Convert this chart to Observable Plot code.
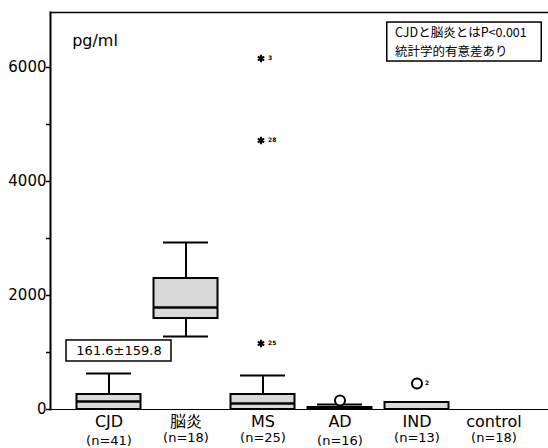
<!DOCTYPE html>
<html><head><meta charset="utf-8">
<script src="https://cdn.jsdelivr.net/npm/d3@7"></script>
<script src="https://cdn.jsdelivr.net/npm/@observablehq/plot@0.6"></script>
<style>body{margin:0;background:#fff}</style>
</head><body>
<div id="chart"></div>
<script>
const categories = ["CJD", "脳炎", "MS", "AD", "IND", "control"];
const nLabels = ["(n=41)", "(n=18)", "(n=25)", "(n=16)", "(n=13)", "(n=18)"];
const q1 = [0, 1596, 0, 0, 0, null];
const medians = [140, 1789, 105, null, null, null];
const q3 = [263, 2298, 263, 35, 123, null];
const whiskerHigh = [632, 2930, 596, 88, null, null];
const whiskerLow = [null, 1281, null, null, null, null];
const starOutliers = [
  {cat: "MS", value: 1158, id: "25"},
  {cat: "MS", value: 4719, id: "28"},
  {cat: "MS", value: 6158, id: "3"}
];
const circleOutliers = [
  {cat: "AD", value: 158, id: ""},
  {cat: "IND", value: 456, id: "2"}
];
const yLabelTicks = [0, 2000, 4000, 6000];
const yMinorTicks = [1000, 3000, 5000];
const unitLabel = "pg/ml";
const cjdNote = "161.6±159.8";
const sigNote = "CJDと脳炎とはP<0.001\n統計学的有意差あり";

const rows = categories.map((c, i) => ({
  cat: c, n: nLabels[i], q1: q1[i], med: medians[i], q3: q3[i],
  hi: whiskerHigh[i], lo: whiskerLow[i]
}));

const chart = Plot.plot({
  width: 548, height: 448,
  marginLeft: 50, marginRight: 1, marginTop: 12, marginBottom: 39,
  style: {fontFamily: "'DejaVu Sans', 'Noto Sans CJK JP', sans-serif", fontSize: "15px", background: "#fff", color: "#000"},
  x: {type: "band", domain: categories, range: [68.25, 533.25], padding: 0, axis: null},
  y: {domain: [0, 6965], axis: null},
  marks: [
    Plot.frame({anchor: "top", stroke: "#000", strokeWidth: 1.5}),
    Plot.frame({anchor: "bottom", stroke: "#000", strokeWidth: 1}),
    Plot.frame({anchor: "left", stroke: "#000", strokeWidth: 2}),
    Plot.axisY({ticks: yMinorTicks, tickFormat: () => "", tickSize: 4, strokeWidth: 1.5}),
    Plot.axisY({ticks: yLabelTicks, tickFormat: d => String(d), tickSize: 4, tickPadding: 0, fontSize: 15, strokeWidth: 1.5}),
    // whiskers
    Plot.ruleX(rows.filter(d => d.hi != null && d.cat !== "AD"), {x: "cat", y1: "q3", y2: "hi", strokeWidth: 2}),
    Plot.ruleX(rows.filter(d => d.lo != null), {x: "cat", y1: "lo", y2: "q1", strokeWidth: 2}),
    Plot.tickY(rows.filter(d => d.hi != null), {x: "cat", y: "hi", inset: 16, strokeWidth: 2}),
    Plot.tickY(rows.filter(d => d.lo != null), {x: "cat", y: "lo", inset: 16, strokeWidth: 2}),
    // boxes
    Plot.barY(rows.filter(d => d.q3 != null), {x: "cat", y1: "q1", y2: "q3", insetLeft: 6.5, insetRight: 6.5, fill: "#d9d9d9", stroke: "#000", strokeWidth: 2}),
    Plot.tickY(rows.filter(d => d.med != null), {x: "cat", y: "med", inset: 6.5, strokeWidth: 2.5}),
    // outliers
    Plot.dot(starOutliers, {x: "cat", y: "value", dx: -2, symbol: "asterisk", r: 3.5, stroke: "#000", strokeWidth: 2}),
    Plot.text(starOutliers, {x: "cat", y: "value", text: "id", dx: 5, textAnchor: "start", fontSize: 6, fontWeight: "bold"}),
    Plot.dot(circleOutliers, {x: "cat", y: "value", symbol: "circle", r: 5, fill: "#fff", stroke: "#000", strokeWidth: 2}),
    Plot.text(circleOutliers, {x: "cat", y: "value", text: "id", dx: 8, textAnchor: "start", fontSize: 6, fontWeight: "bold"}),
    // category labels
    Plot.text(rows, {x: "cat", y: 0, text: "cat", dy: 12, fontSize: 16}),
    Plot.text(rows.filter(d => d.cat === "CJD" || d.cat === "AD"), {x: "cat", y: 0, text: "n", dy: 31, fontSize: 13}),
    Plot.text(rows.filter(d => !(d.cat === "CJD" || d.cat === "AD")), {x: "cat", y: 0, text: "n", dy: 28, fontSize: 13}),
    // unit label
    Plot.text([unitLabel], {x: () => "CJD", y: () => 6474, dx: -14, text: d => d, fontSize: 16}),
    // CJD note box
    Plot.barY([cjdNote], {x: () => "CJD", y1: () => 842, y2: () => 1211, insetLeft: -4, insetRight: -24, fill: "#fff", stroke: "#000", strokeWidth: 1.5}),
    Plot.text([cjdNote], {x: () => "CJD", y: () => 1026, dx: 10, text: d => d, fontSize: 13}),
    // significance note
    Plot.barY([sigNote], {x: () => "IND", y1: () => 6105, y2: () => 6789, insetLeft: 8.75, insetRight: -86.25, fill: "#fff", stroke: "#000", strokeWidth: 1.5}),
    Plot.text([sigNote], {x: () => "IND", y: () => 6754, dx: -22, text: d => d, textAnchor: "start", lineAnchor: "top", lineHeight: 1.45, fontSize: 12.5, fontFamily: "'Noto Sans CJK JP', sans-serif"})
  ]
});
document.getElementById("chart").appendChild(chart);
</script>
</body></html>
